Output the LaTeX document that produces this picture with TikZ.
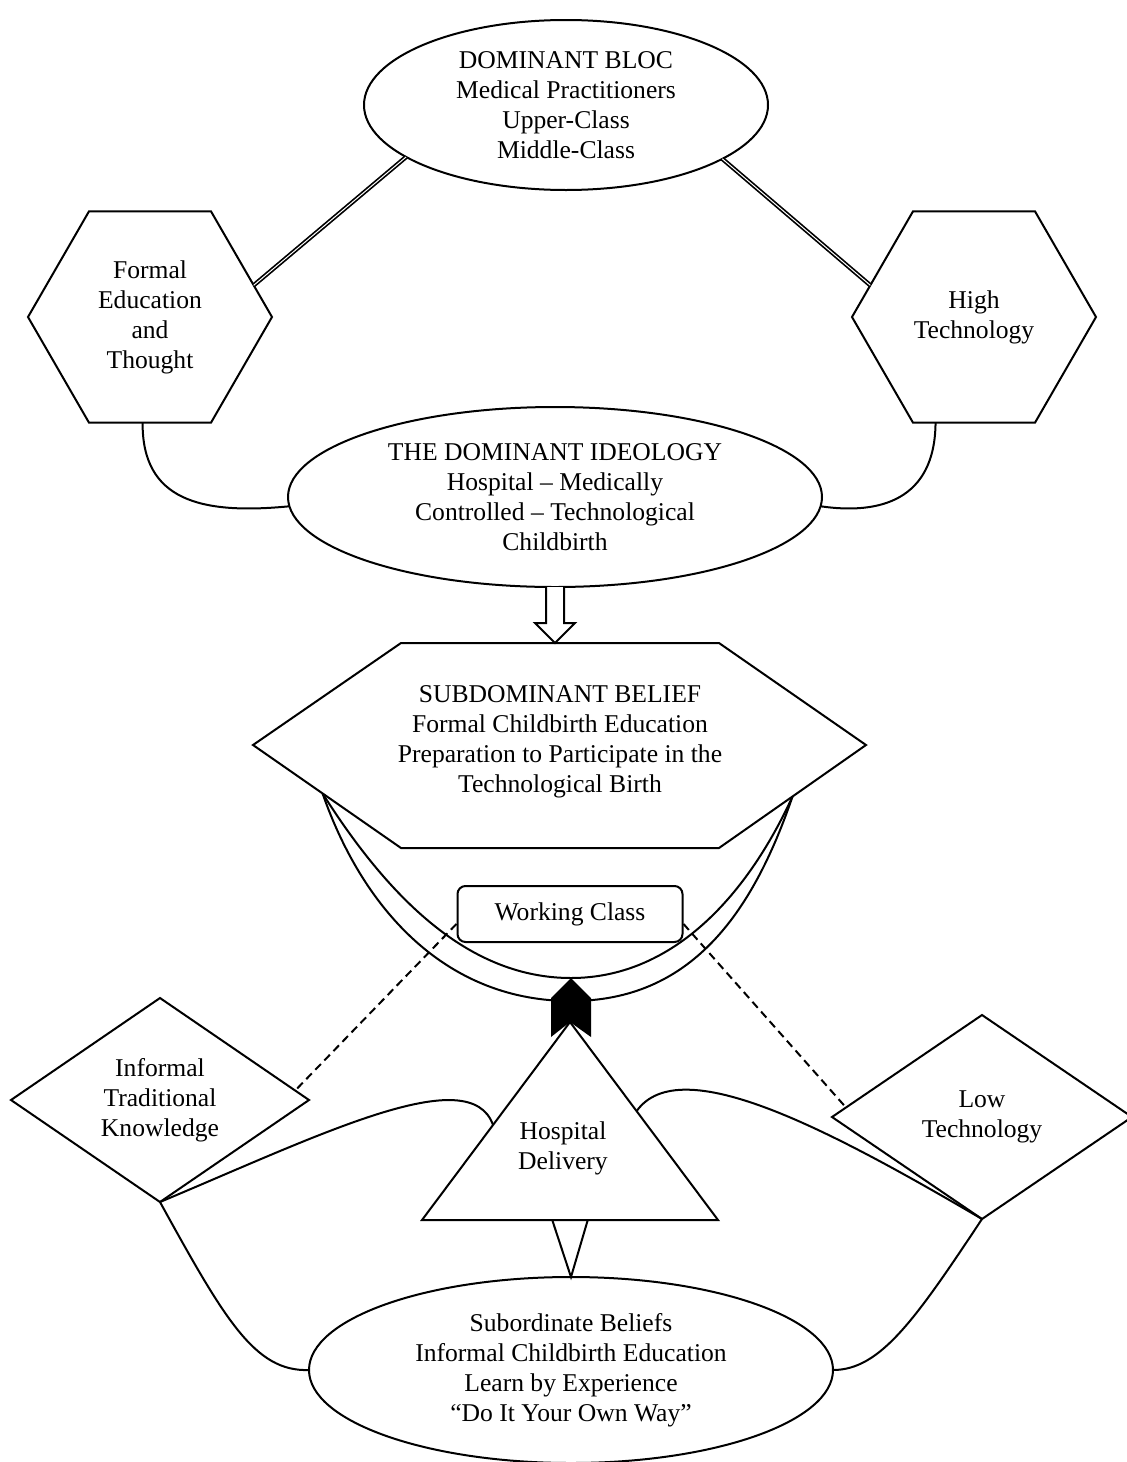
\documentclass[tikz,border=0pt]{standalone}
\usepackage{fontspec}
\setmainfont{Liberation Serif}
\usetikzlibrary{shapes.geometric,calc}

\begin{document}
\begin{tikzpicture}[x=0.5pt, y=-0.5pt,
    font=\fontsize{12.8}{15}\selectfont,
    oval/.style ={ellipse, draw, line width=1pt, align=center, inner sep=0pt, outer sep=0pt},
    hexa/.style ={regular polygon, regular polygon sides=6, draw, line width=1pt, align=center,
                  inner sep=0pt, outer sep=0pt, minimum size=122pt},
    rhomb/.style ={diamond, draw, line width=1pt, align=center, inner sep=0pt, outer sep=0pt,
                  minimum width=149pt, minimum height=102pt},
    words/.style ={align=center, inner sep=0pt},
    link/.style ={line width=1pt},
    tie/.style ={double, line width=0.85pt, double distance=0.5pt}]
   \useasboundingbox (0,0) rectangle (1126,1462);

   \node[oval, minimum width=202pt, minimum height=85pt] (bloc) at (566,105)
      {DOMINANT BLOC\\Medical Practitioners\\Upper-Class\\Middle-Class};
   \node[hexa] (formal) at (150,317) {Formal\\Education\\and\\Thought};
   \node[hexa] (hightech) at (974,317) {High\\Technology};
   \node[oval, minimum width=267pt, minimum height=90pt] (ideology) at (555,497)
      {THE DOMINANT IDEOLOGY\\Hospital -- Medically\\Controlled -- Technological\\Childbirth};

   \coordinate (sL)  at (253,745);
   \coordinate (sTL) at (401,643);
   \coordinate (sTR) at (719,643);
   \coordinate (sR)  at (866,745);
   \coordinate (sBR) at (719,848);
   \coordinate (sBL) at (401,848);
   \coordinate (sTop) at (555,643);
   \draw[link] (sL) -- (sTL) -- (sTR) -- (sR) -- (sBR) -- (sBL) -- cycle;
   \node[words] (subdominant) at (560,742)
      {SUBDOMINANT BELIEF\\Formal Childbirth Education\\Preparation to Participate in the\\Technological Birth};

   \node[draw, rounded corners=4pt, line width=1pt, minimum width=112.5pt, minimum height=28pt,
         inner sep=0pt] (working) at (570,914) {Working Class};

   \node[rhomb] (informal) at (160,1100) {Informal\\Traditional\\Knowledge};
   \node[rhomb, minimum width=150pt] (lowtech) at (982,1117) {Low\\Technology};

   \coordinate (tA) at (570,1022);
   \coordinate (tR) at (718,1220);
   \coordinate (tL) at (422,1220);
   \draw[link] (tA) -- (tR) -- (tL) -- cycle;
   \node[words] (hospital) at (563,1148) {Hospital\\Delivery};

   \node[oval, minimum width=262pt, minimum height=93pt] (subordinate) at (571,1370)
      {Subordinate Beliefs\\Informal Childbirth Education\\Learn by Experience\\``Do It Your Own Way''};

   \draw[tie] (bloc.198) -- (formal.17);
   \draw[tie] (bloc.-19) -- (hightech.163);

   \draw[link] (formal.266) .. controls (142,500) and (200,515) .. (ideology.182);
   \draw[link] (hightech.250) .. controls (935,500) and (880,515) .. (ideology.-2);

   \draw[link, fill=white] ([xshift=-4.5pt]ideology.south) |- ([xshift=-4.5pt, yshift=10pt]sTop)
      -- ([xshift=-10pt, yshift=10pt]sTop) -- (sTop) -- ([xshift=10pt, yshift=10pt]sTop)
      -| ([xshift=4.5pt]ideology.south);

   \coordinate (uL) at ($(sL)!0.47!(sBL)$);
   \coordinate (uR) at ($(sR)!0.5!(sBR)$);
   \coordinate (apex) at (571,978);
   \draw[link] (uL) .. controls (390,900) and (470,978) .. (apex)
      .. controls (670,978) and (745,900) .. (uR);
   \draw[link] (uL) .. controls (365,915) and (450,1001) .. (571,1001)
      .. controls (690,1001) and (752,915) .. (uR);
   \fill (apex) -- (591,998) -- (591,1037) -- (tA) -- (551,1037) -- (551,998) -- cycle;

   \draw[link, dash pattern=on 4pt off 2.5pt] (working.185) -- (informal.4);
   \draw[link, dash pattern=on 4pt off 2.5pt] (working.-5) -- (lowtech.176);

   \draw[link] (informal.south) .. controls (320,1135) and (470,1060) .. ($(tA)!0.52!(tL)$);
   \draw[link] (lowtech.south) .. controls (830,1130) and (680,1050) .. ($(tA)!0.45!(tR)$);

   \draw[link] (informal.south) .. controls (225,1320) and (255,1372) .. (subordinate.west);
   \draw[link] (lowtech.south) .. controls (915,1320) and (880,1370) .. (subordinate.east);

   \draw[link] ($(tL)!0.44!(tR)$) -- (subordinate.north) -- ($(tL)!0.56!(tR)$);

\end{tikzpicture}
\end{document}
